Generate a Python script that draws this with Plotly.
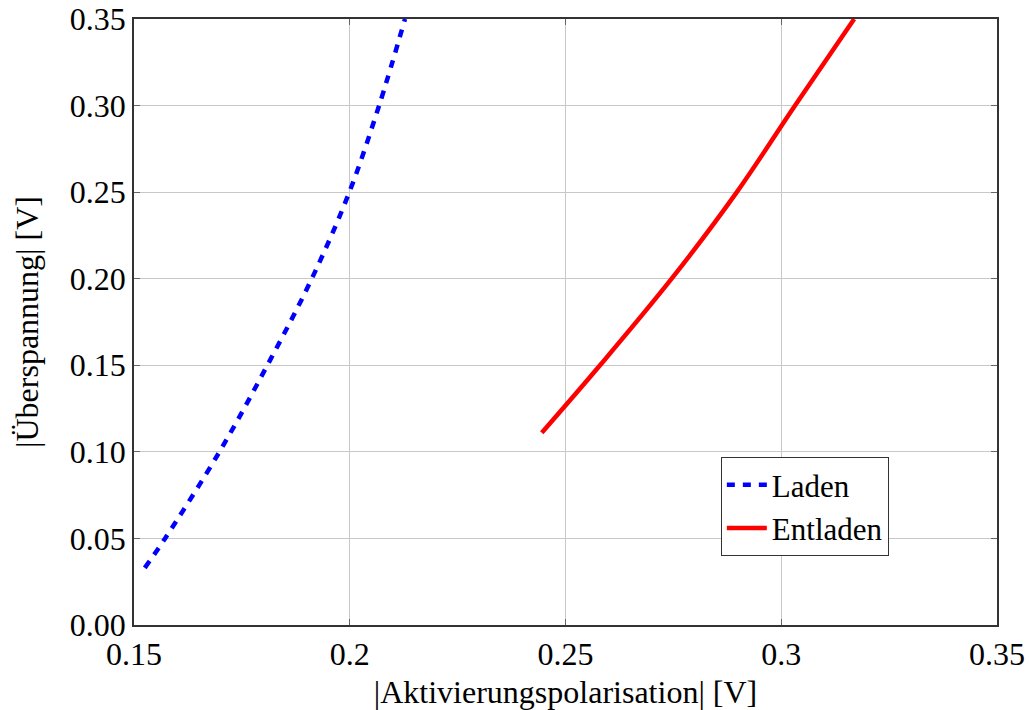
import plotly.graph_objects as go

# Laden (charging): activation polarisation vs. overpotential
laden_x = [0.1525, 0.1572, 0.1698, 0.1809, 0.1912, 0.1999, 0.2068, 0.2128]
laden_y = [0.033, 0.05, 0.10, 0.15, 0.20, 0.25, 0.30, 0.35]

# Entladen (discharging)
entladen_x = [0.2445, 0.2580, 0.2746, 0.2897, 0.3032, 0.3169]
entladen_y = [0.111, 0.15, 0.20, 0.25, 0.30, 0.35]

x_ticks = [0.15, 0.2, 0.25, 0.3, 0.35]
x_ticktext = ["0.15", "0.2", "0.25", "0.3", "0.35"]
y_ticks = [0.0, 0.05, 0.10, 0.15, 0.20, 0.25, 0.30, 0.35]
y_ticktext = ["0.00", "0.05", "0.10", "0.15", "0.20", "0.25", "0.30", "0.35"]

FONT = "Liberation Serif, DejaVu Serif, serif"
FS = 32

fig = go.Figure()
fig.add_trace(go.Scatter(
    x=laden_x, y=laden_y, mode="lines", name="Laden",
    line=dict(color="#0000ff", width=4.5, dash="8px,8px", shape="spline"),
))
fig.add_trace(go.Scatter(
    x=entladen_x, y=entladen_y, mode="lines", name="Entladen",
    line=dict(color="#ff0000", width=4.5, shape="spline"),
))

axis_common = dict(
    showgrid=True, gridcolor="#c8c8c8", gridwidth=1,
    showline=True, linecolor="#333333", linewidth=1.5, mirror="ticks",
    ticks="inside", ticklen=6, tickcolor="#666666", tickwidth=1,
    zeroline=False, automargin=False,
    tickfont=dict(family=FONT, size=FS, color="black"),
)

fig.update_xaxes(
    range=[0.15, 0.35], tickvals=x_ticks, ticktext=x_ticktext,
    title=dict(text="|Aktivierungspolarisation| [V]", font=dict(family=FONT, size=FS, color="black"), standoff=10),
    **axis_common,
)
fig.update_yaxes(
    range=[0.0, 0.35], tickvals=y_ticks, ticktext=y_ticktext,
    title=dict(text="|Überspannung| [V]", font=dict(family=FONT, size=FS, color="black"), standoff=22),
    **axis_common,
)

fig.update_layout(
    width=1029, height=710,
    margin=dict(l=134, r=32, t=19, b=85),
    paper_bgcolor="white", plot_bgcolor="white",
    font=dict(family=FONT, size=FS, color="black"),
    legend=dict(
        x=0.68, y=0.277, xanchor="left", yanchor="top",
        bgcolor="white", bordercolor="#333333", borderwidth=1,
        font=dict(family=FONT, size=31, color="black"),
        tracegroupgap=0, itemwidth=40,
    ),
    showlegend=True,
)

fig.write_html("out.html")
